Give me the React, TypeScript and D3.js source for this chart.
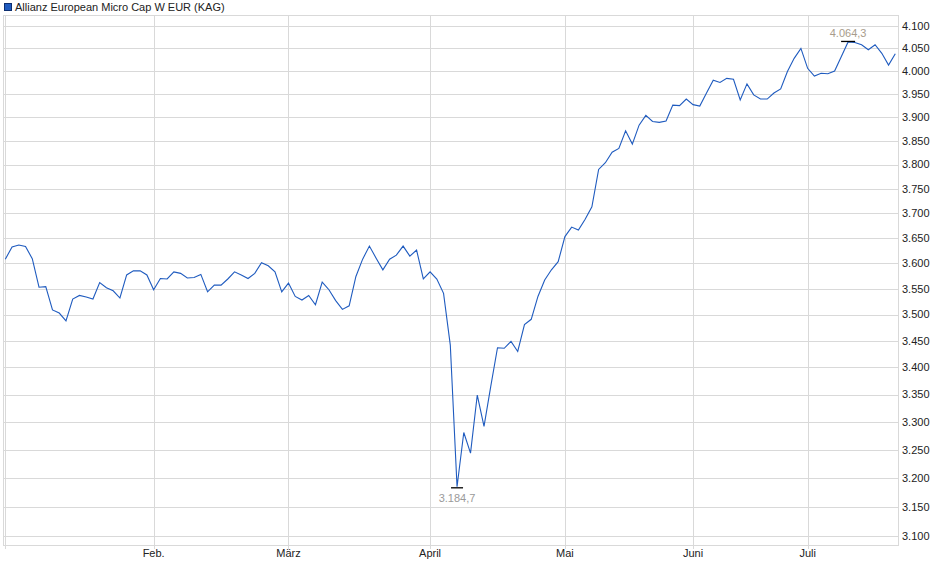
import * as d3 from "d3";

const title = "Allianz European Micro Cap W EUR (KAG)";

// fund price per trading day (index based x axis)
const prices: number[] = [
  3608, 3632, 3636, 3633, 3609, 3553, 3554, 3509, 3503, 3488,
  3530, 3537, 3534, 3530, 3562, 3552, 3546, 3532, 3577, 3585,
  3585, 3577, 3548, 3570, 3569, 3583, 3580, 3571, 3572, 3578,
  3544, 3557, 3557, 3569, 3583, 3577, 3570, 3580, 3601, 3595,
  3583, 3544, 3561, 3535, 3528, 3537, 3519, 3563, 3548, 3527,
  3510, 3517, 3574, 3608, 3634, 3610, 3587, 3608, 3616, 3634,
  3614, 3626, 3569, 3583, 3569, 3541, 3442, 3184.7, 3281, 3244,
  3349, 3292, 3365, 3437, 3436, 3449, 3430, 3481, 3491, 3535,
  3567, 3587, 3603, 3653, 3672, 3666, 3688, 3713, 3790, 3804,
  3826, 3834, 3871, 3843, 3883, 3904, 3891, 3889, 3892, 3926,
  3925, 3939, 3927, 3924, 3952, 3980, 3975, 3984, 3982, 3937,
  3972, 3948, 3939, 3939, 3952, 3961, 3999, 4028, 4050, 4006,
  3989, 3995, 3994, 4000, 4032, 4064.3, 4063, 4058, 4047, 4058,
  4039, 4013, 4038,
];

// first trading day of each month (index into prices)
const monthIndex = [0, 22, 42, 63, 83, 102, 119];
const monthLabels = ["", "Feb.", "März", "April", "Mai", "Juni", "Juli"];

const yTicks = [
  3100, 3150, 3200, 3250, 3300, 3350, 3400, 3450, 3500, 3550, 3600,
  3650, 3700, 3750, 3800, 3850, 3900, 3950, 4000, 4050, 4100,
];

const yDomain = [3084.7, 4124.8];

const W = 940;
const H = 579;
const plot = { left: 3, right: 898, top: 15, bottom: 545 };
const font = "'Liberation Sans', Arial, sans-serif";
const gridColor = "#d9d9d9";
const lineColor = "#1f5bbf";

// German number format: 4.064,3
const fmt = (v: number, digits: number) => {
  const [int, dec] = v.toFixed(digits).split(".");
  const grouped = int.replace(/\B(?=(\d{3})+(?!\d))/g, ".");
  return dec ? `${grouped},${dec}` : grouped;
};

export default function App() {
  const x = d3
    .scaleLinear()
    .domain([0, prices.length - 1])
    .range([5.3, 895.3]);
  const y = d3.scaleLog().domain(yDomain).range([plot.bottom, plot.top]);

  const line = d3
    .line<number>()
    .x((_, i) => x(i))
    .y((d) => y(d));

  const minI = d3.minIndex(prices);
  const maxI = d3.maxIndex(prices);

  return (
    <div style={{ position: "absolute", left: 0, top: 0 }}>
      <svg width={W} height={H} style={{ display: "block" }} fontFamily={font}>
        <rect width={W} height={H} fill="#fff" />

        {/* legend */}
        <rect x={4.5} y={3.5} width={7} height={7} fill="#1f5bbf" stroke="#0d2f70" />
        <text x={15} y={10.5} fontSize={11} fill="#222">
          {title}
        </text>

        {/* horizontal grid + right labels */}
        {yTicks.map((t) => (
          <g key={t}>
            <line
              x1={plot.left}
              x2={plot.right}
              y1={Math.round(y(t)) + 0.5}
              y2={Math.round(y(t)) + 0.5}
              stroke={gridColor}
            />
            <text
              x={plot.right + 4}
              y={y(t)}
              dy="0.35em"
              fontSize={11}
              fill="#222"
            >
              {fmt(t, 0)}
            </text>
          </g>
        ))}

        {/* vertical month grid + ticks */}
        {monthIndex.map((mi, k) => (
          <g key={mi}>
            <line
              x1={Math.round(x(mi)) + 0.5}
              x2={Math.round(x(mi)) + 0.5}
              y1={plot.top}
              y2={plot.bottom + 4}
              stroke={gridColor}
            />
            <text
              x={x(mi)}
              y={557}
              textAnchor="middle"
              fontSize={11}
              fill="#222"
            >
              {monthLabels[k]}
            </text>
          </g>
        ))}

        {/* plot frame */}
        <rect
          x={plot.left + 0.5}
          y={plot.top + 0.5}
          width={plot.right - plot.left}
          height={plot.bottom - plot.top}
          fill="none"
          stroke={gridColor}
        />

        {/* price line */}
        <path d={line(prices) ?? ""} fill="none" stroke={lineColor} strokeWidth={1.1} />

        {/* min marker */}
        <line
          x1={x(minI) - 6}
          x2={x(minI) + 6}
          y1={y(prices[minI]) + 1}
          y2={y(prices[minI]) + 1}
          stroke="#000"
          strokeWidth={1.3}
        />
        <text
          x={x(minI)}
          y={502}
          textAnchor="middle"
          fontSize={11}
          fill="#9a9a9a"
        >
          {fmt(prices[minI], 1)}
        </text>

        {/* max marker */}
        <line
          x1={x(maxI) - 7}
          x2={x(maxI) + 7}
          y1={y(prices[maxI]) - 0.5}
          y2={y(prices[maxI]) - 0.5}
          stroke="#000"
          strokeWidth={1.3}
        />
        <text
          x={x(maxI)}
          y={37}
          textAnchor="middle"
          fontSize={11}
          fill="#a89c8c"
        >
          {fmt(prices[maxI], 1)}
        </text>
      </svg>
    </div>
  );
}
